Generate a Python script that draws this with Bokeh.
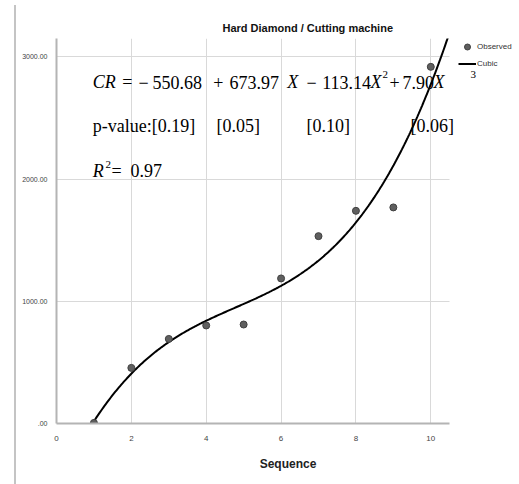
import numpy as np
from bokeh.plotting import figure
from bokeh.models import Label, Legend, LegendItem, FixedTicker, Range1d, Title, BoxAnnotation
from bokeh.embed import file_html
from bokeh.resources import INLINE

# ---------------- data ----------------
sequence = [1, 2, 3, 4, 5, 6, 7, 8, 9, 10]
observed = [5, 455, 692, 802, 810, 1187, 1533, 1740, 1768, 2918]
cubic_coef = [-550.68, 673.97, -113.14, 7.90]   # b0, b1, b2, b3 as printed on the chart
x_ticks = [0, 2, 4, 6, 8, 10]
y_ticks = [0, 1000, 2000, 3000]
y_tick_labels = [".00", "1000.00", "2000.00", "3000.00"]
p_values = ["p-value:[0.19]", "[0.05]", "[0.10]", "[0.06]"]
r_squared = "0.97"
title_text = "Hard Diamond / Cutting machine"
x_label = "Sequence"
legend_labels = ["Observed", "Cubic"]

SANS = "Liberation Sans"
SERIF = "Liberation Serif"

# geometry
PX_PER_X = 393 / 10.5          # pixels per x unit
FW, FH = 463, 385              # frame size in pixels
X_AXIS_END = 10.5              # axis / plot area ends here
X0, X1 = 0, FW / PX_PER_X
Y0, Y1 = 0, 3150

def dx(px):  # pixel offset from frame left -> data x
    return X0 + px / FW * (X1 - X0)

def dy(py):  # pixel offset from frame top -> data y
    return Y1 - py / FH * (Y1 - Y0)

p = figure(frame_width=FW, frame_height=FH,
           x_range=Range1d(X0, X1), y_range=Range1d(Y0, Y1),
           output_backend="svg", toolbar_location=None,
           min_border_left=56, min_border_right=0,
           min_border_top=38, min_border_bottom=61)
p.title = Title(text=title_text, align="left", offset=166,
                text_font=SANS, text_font_size="11px",
                text_font_style="bold", text_color="#111111", standoff=10)
p.outline_line_color = None
p.background_fill_color = "white"
p.border_fill_alpha = 0
p.styles = {"background": "linear-gradient(#c4c4c4, #c4c4c4) no-repeat 14px 5px / 2px 100%, white"}

for ax in (p.xaxis[0], p.yaxis[0]):
    ax.axis_line_color = "#b4b4b4"
    ax.axis_line_width = 2
    ax.major_tick_line_color = None
    ax.minor_tick_line_color = None
    ax.major_label_text_font = SANS
    ax.major_label_text_color = "#444444"

p.xaxis.major_label_text_font_size = "8px"
p.yaxis.major_label_text_font_size = "7px"
p.xaxis.bounds = (0, X_AXIS_END)
p.xaxis.ticker = FixedTicker(ticks=x_ticks)
p.yaxis.ticker = FixedTicker(ticks=y_ticks)
p.yaxis.major_label_overrides = {t: l for t, l in zip(y_ticks, y_tick_labels)}
p.xaxis.major_label_standoff = 6
p.yaxis.major_label_standoff = 3
p.xaxis.axis_label = x_label
p.xaxis.axis_label_text_font = SANS
p.xaxis.axis_label_text_font_size = "12px"
p.xaxis.axis_label_text_font_style = "bold"
p.xaxis.axis_label_text_color = "#222222"
p.xaxis.axis_label_standoff = 13

p.xgrid.ticker = FixedTicker(ticks=x_ticks)
p.ygrid.ticker = FixedTicker(ticks=y_ticks)
p.xgrid.grid_line_color = "#d9d9d9"
p.ygrid.grid_line_color = "#d9d9d9"

# hide grid beyond the end of the plot area
p.add_layout(BoxAnnotation(left=X_AXIS_END, fill_color="white", fill_alpha=1,
                           line_alpha=0, level="underlay"))

# fitted cubic curve from the printed coefficients
xs = np.linspace(min(sequence), X_AXIS_END, 300)
ys = cubic_coef[0] + cubic_coef[1] * xs + cubic_coef[2] * xs**2 + cubic_coef[3] * xs**3
line_r = p.line(xs, ys, line_color="black", line_width=2)
pts_r = p.scatter(sequence, observed, size=7, fill_color="#5f5f5f",
                  line_color="#404040", line_width=1)

legend = Legend(items=[LegendItem(label=legend_labels[0], renderers=[pts_r]),
                       LegendItem(label=legend_labels[1], renderers=[line_r])],
                location=(402, FH - 33), padding=0, margin=0, spacing=2,
                glyph_width=18, glyph_height=15, label_height=15,
                label_standoff=1, label_text_font=SANS,
                label_text_font_size="8px", label_text_color="#333333",
                border_line_color=None, background_fill_alpha=0)
p.add_layout(legend)

# equation annotation (positions in pixels relative to the plot area's top-left,
# vertical position = visual middle of the text)
def lab(text, px, py, size="18px", style="normal"):
    p.add_layout(Label(x=dx(px), y=dy(py), text=text, text_font=SERIF,
                       text_font_size=size, text_font_style=style,
                       text_color="black", text_baseline="middle"))

eq_y = 43.7
sup_y = 36
eq = [("CR", 36.3, "italic"), ("=", 65.7, "normal"), ("\u2212", 82, "normal"),
      ("550.68", 96, "normal"), ("+", 156.7, "normal"), ("673.97", 173, "normal"),
      ("X", 230.7, "italic"), ("\u2212", 250, "normal"), ("113.14", 265.7, "normal"),
      ("X", 314, "italic"), ("+", 333, "normal"), ("7.90", 346, "normal"),
      ("X", 377, "italic")]
for t, px, st in eq:
    lab(t, px, eq_y, style=st)
lab("2", 326, sup_y, size="11px")
lab("3", 414, sup_y, size="11px")

pv_y = 87
for t, px in zip(p_values, [36.3, 160, 250, 354]):
    lab(t, px, pv_y)

r_y = 132
lab("R", 36.3, r_y, style="italic")
lab("2", 49, 125.8, size="11px")
lab("=", 55, r_y)
lab(r_squared, 74, r_y)

open("out.html", "w").write(file_html(p, INLINE))
